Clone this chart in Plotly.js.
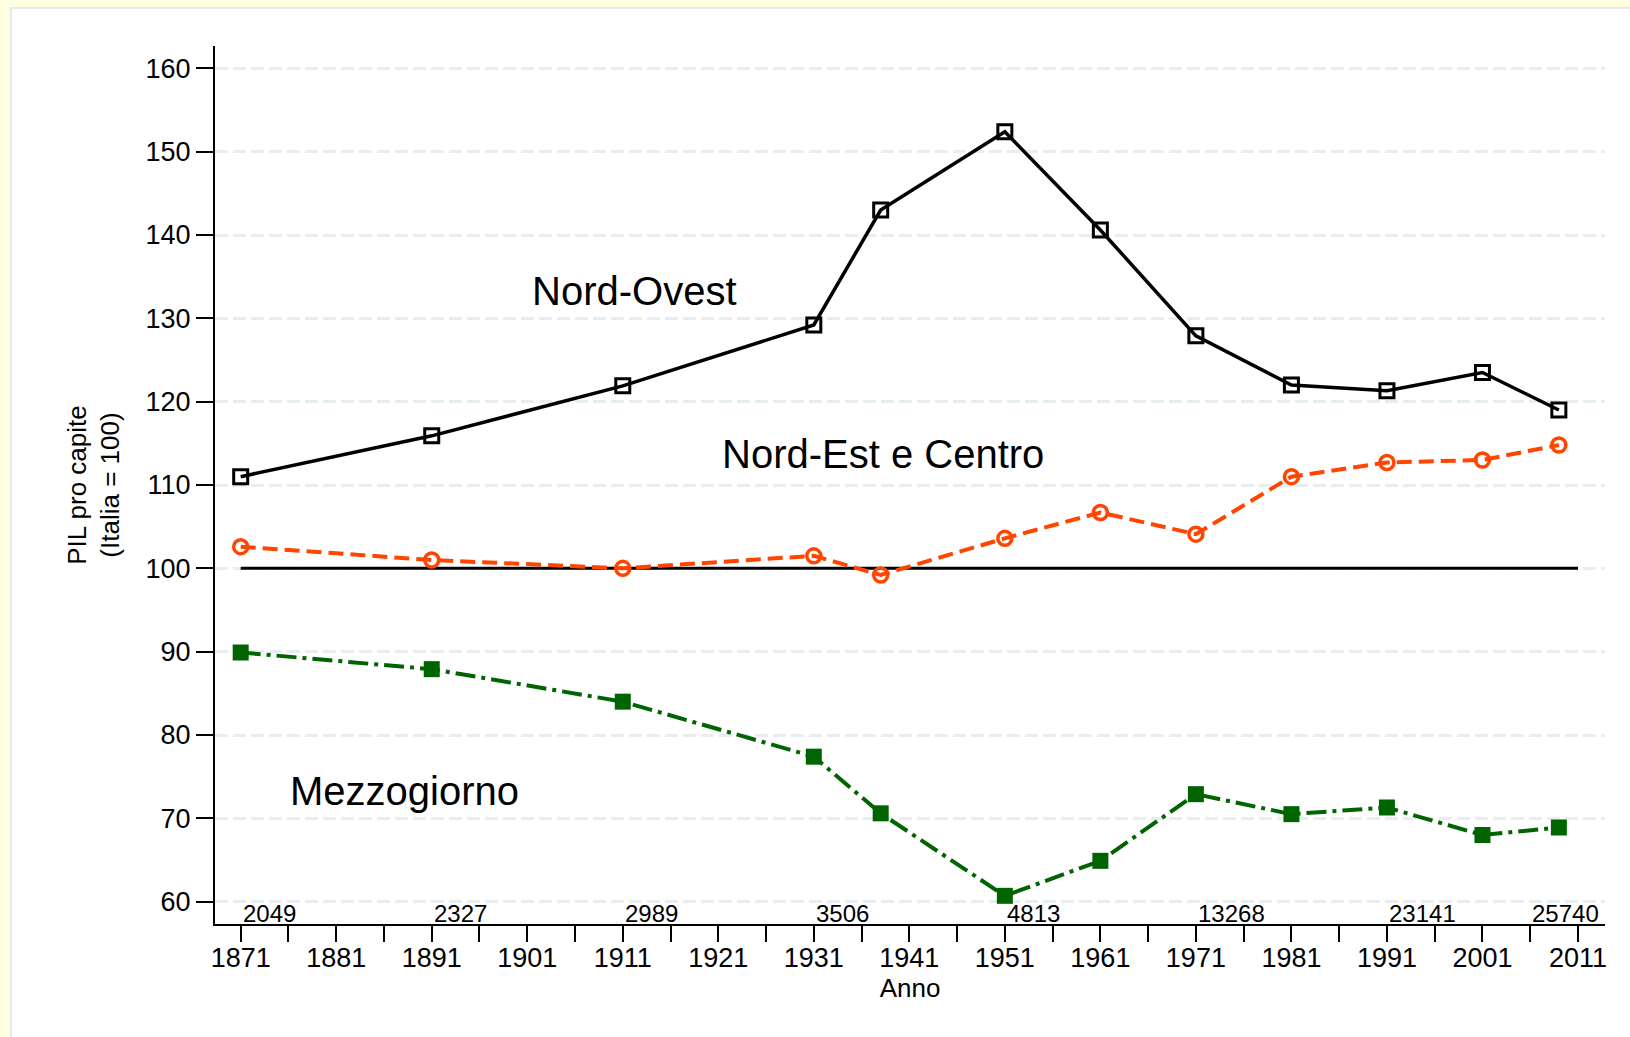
<!DOCTYPE html>
<html>
<head>
<meta charset="utf-8">
<script src="https://cdn.plot.ly/plotly-3.0.1.min.js"></script>
<style>
  html, body { margin: 0; padding: 0; width: 1630px; height: 1037px; overflow: hidden; background: #FFFEE0; }
  #frame { position: absolute; left: 10px; top: 7px; width: 1620px; height: 1030px; border-left: 2px solid #e3ebee; border-top: 2px solid #e3ebee; background: #ffffff; }
  #chart { position: absolute; left: 0; top: 0; width: 1620px; height: 1030px; }
</style>
</head>
<body>
<div id="frame"><div id="chart"></div></div>
<script>
// ---- data ----
const years = [1871, 1891, 1911, 1931, 1938, 1951, 1961, 1971, 1981, 1991, 2001, 2009];
const nordOvest = [111.0, 115.9, 121.9, 129.2, 143.0, 152.4, 140.6, 127.9, 122.0, 121.3, 123.5, 119.0];
const nordEstCentro = [102.6, 101.0, 100.0, 101.5, 99.2, 103.6, 106.7, 104.1, 111.0, 112.7, 113.0, 114.8];
const mezzogiorno = [89.9, 87.9, 84.0, 77.4, 70.6, 60.7, 64.9, 72.9, 70.5, 71.3, 68.0, 68.9];

const refYears = [1871, 2011];
const refValues = [100, 100];

// GDP per capita labels shown near the x axis
const gdpYears = [1871, 1891, 1911, 1931, 1951, 1971, 1991, 2006];
const gdpLabels = ["2049", "2327", "2989", "3506", "4813", "13268", "23141", "25740"];
const gdpLabelY = 58.6;

// series names written on the chart
const seriesNames = ["Nord-Ovest", "Nord-Est e Centro", "Mezzogiorno"];
const seriesLabelX = [1912.2, 1938.2, 1888.1];
const seriesLabelY = [133.3, 113.7, 73.3];

// axis ticks
const xTickVals = [1871, 1876, 1881, 1886, 1891, 1896, 1901, 1906, 1911, 1916, 1921, 1926, 1931, 1936,
                   1941, 1946, 1951, 1956, 1961, 1966, 1971, 1976, 1981, 1986, 1991, 1996, 2001, 2006, 2011];
const xTickText = ["1871", "", "1881", "", "1891", "", "1901", "", "1911", "", "1921", "", "1931", "",
                   "1941", "", "1951", "", "1961", "", "1971", "", "1981", "", "1991", "", "2001", "", "2011"];
const yTickVals = [60, 70, 80, 90, 100, 110, 120, 130, 140, 150, 160];
const yTickText = ["60", "70", "80", "90", "100", "110", "120", "130", "140", "150", "160"];

const FONT = '"Liberation Sans", Arial, Helvetica, sans-serif';

const traces = [
  {
    x: refYears, y: refValues, type: 'scatter', mode: 'lines',
    line: { color: '#000000', width: 3 }, hoverinfo: 'skip'
  },
  {
    x: years, y: nordOvest, type: 'scatter', mode: 'lines+markers', name: seriesNames[0],
    line: { color: '#000000', width: 3.5 },
    marker: { symbol: 'square-open', size: 14, color: '#000000', line: { color: '#000000', width: 3 } }
  },
  {
    x: years, y: nordEstCentro, type: 'scatter', mode: 'lines+markers', name: seriesNames[1],
    line: { color: '#ff4500', width: 4, dash: '15px,7px' },
    marker: { symbol: 'circle-open', size: 14, color: '#ff4500', line: { color: '#ff4500', width: 3.5 } }
  },
  {
    x: years, y: mezzogiorno, type: 'scatter', mode: 'lines+markers', name: seriesNames[2],
    line: { color: '#006400', width: 4, dash: '20px,6px,4px,6px' },
    marker: { symbol: 'square', size: 16, color: '#006400' }
  }
];

const annotations = [];
for (let i = 0; i < gdpYears.length; i++) {
  annotations.push({
    x: gdpYears[i], y: gdpLabelY, xref: 'x', yref: 'y', text: gdpLabels[i],
    showarrow: false, xanchor: 'left', yanchor: 'middle',
    font: { family: FONT, size: 24, color: '#000000' }
  });
}
for (let i = 0; i < seriesNames.length; i++) {
  annotations.push({
    x: seriesLabelX[i], y: seriesLabelY[i], xref: 'x', yref: 'y', text: seriesNames[i],
    showarrow: false, xanchor: 'center', yanchor: 'middle',
    font: { family: FONT, size: 40, color: '#000000' }
  });
}

const layout = {
  width: 1620, height: 1030,
  margin: { l: 203, r: 27, t: 37, b: 115, pad: 0 },
  paper_bgcolor: 'rgba(0,0,0,0)',
  plot_bgcolor: '#ffffff',
  showlegend: false,
  hovermode: false,
  font: { family: FONT, color: '#000000', size: 26 },
  xaxis: {
    range: [1868.31, 2013.83],
    tickmode: 'array', tickvals: xTickVals, ticktext: xTickText,
    ticks: 'outside', ticklen: 16, tickwidth: 2, tickcolor: '#000000',
    ticklabelstandoff: -7,
    showline: true, linecolor: '#000000', linewidth: 2,
    showgrid: false, zeroline: false,
    tickfont: { family: FONT, size: 27, color: '#000000' },
    title: { text: 'Anno', font: { family: FONT, size: 26, color: '#000000' }, standoff: 0 }
  },
  yaxis: {
    range: [57.32, 162.68],
    tickmode: 'array', tickvals: yTickVals, ticktext: yTickText,
    ticks: 'outside', ticklen: 17, tickwidth: 2, tickcolor: '#000000',
    showline: true, linecolor: '#000000', linewidth: 2,
    showgrid: true, gridcolor: '#e6eef1', gridwidth: 3, griddash: '13px,5px',
    zeroline: false,
    tickfont: { family: FONT, size: 27, color: '#000000' },
    title: { text: 'PIL pro capite<br>(Italia = 100)', font: { family: FONT, size: 26, color: '#000000' }, standoff: 18 }
  },
  annotations: annotations
};

Plotly.newPlot('chart', traces, layout, { displayModeBar: false, staticPlot: true });
</script>
</body>
</html>
